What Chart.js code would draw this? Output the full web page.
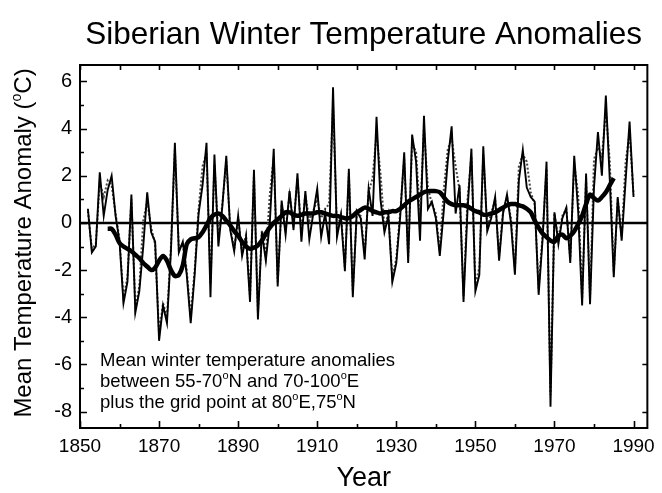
<!DOCTYPE html>
<html>
<head>
<meta charset="utf-8">
<script src="https://cdn.jsdelivr.net/npm/chart.js@4.4.1/dist/chart.umd.min.js"></script>
<style>
  html, body { margin: 0; padding: 0; background: #fff; }
</style>
</head>
<body>
<canvas id="chart" width="662" height="493"></canvas>
<script>
'use strict';

// Winter anomalies (°C), one value per year from 1852 to 1990
const firstYear = 1852;
const annual = [
    0.6, -1.25, -1.0, 2.15, 0.3, 1.4, 2.0, 0.3,
    -0.8, -3.4, -2.5, 1.2, -3.8, -2.9, -1.0, 1.3, -0.4, -0.8,
    -5.0, -3.5, -4.25, -1.2, 3.4, -1.25, -0.8, -2.2, -4.25, -2.2,
    0.4, 1.6, 3.4, -3.15, 2.9, -1.0, 0.7, 2.85, -0.3, -1.2,
    0.3, -1.4, -0.6, -3.35, 2.25, -4.1, -0.4, -1.6, 0.0, 3.15,
    -2.7, 0.95, -0.5, 1.35, -0.3, 2.1, -0.8, 1.35, -0.7, 0.4,
    1.45, -0.6, 0.4, -0.9, 5.75, -0.6, 0.3, -2.05, 2.3, -3.15,
    0.5, 0.2, -1.55, 1.45, 0.3, 4.5, 1.0, -0.4, 0.3, -2.5,
    -1.7, 0.3, 3.0, -1.7, 3.75, 2.6, -0.75, 4.55, 0.6, 0.9,
    0.2, -1.4, 0.5, 2.6, 4.1, 0.4, 1.6, -3.35, 0.5, 3.15,
    -2.9, -2.2, 3.25, -0.35, 0.2, 1.1, -1.6, 0.4, 1.2, 0.0,
    -2.2, 1.8, 3.1, 1.5, 1.1, 0.9, -3.05, -0.7, 2.6, -7.8,
    0.45, -0.9, 0.2, 0.65, -1.7, 2.85, 0.5, -3.5, 2.1, -3.45,
    1.5, 3.85, 2.0, 5.4, 1.8, -2.3, 1.1, -0.75, 1.8, 4.3,
    1.1
];

// second (dotted) series, same years
const gridded = [
    0.5, -1.1, -0.9, 1.7, 1.1, 1.8, 1.6, 0.4,
    -0.7, -3.2, -2.3, 1.0, -3.6, -2.7, 0.1, 0.9, -0.2, -0.9,
    -4.7, -3.4, -4.0, -1.0, 3.1, -1.1, -0.9, -2.0, -4.0, -2.0,
    0.6, 2.4, 3.0, -2.6, 2.5, -0.6, 0.8, 2.6, -0.2, -1.1,
    0.2, -1.3, -0.5, -3.1, 2.0, -3.8, -0.3, -1.4, 1.2, 2.8,
    -2.5, 0.8, -0.3, 1.2, 0.0, 1.9, -0.4, 1.2, 0.1, 0.5,
    1.0, 0.2, 0.6, 0.8, 5.0, -0.3, 0.4, -1.9, 2.1, -2.9,
    0.4, 0.3, -1.3, 1.3, 1.9, 3.8, 2.1, -0.2, 0.4, -2.3,
    -1.5, 0.5, 2.7, -1.4, 3.4, 3.0, 0.3, 4.0, 1.5, 0.8,
    0.4, -1.2, 1.4, 3.1, 3.6, 2.4, 1.4, -3.1, 1.0, 2.8,
    -2.6, -1.9, 2.9, -0.2, 0.4, 1.0, -1.4, 0.5, 1.1, 0.2,
    -2.0, 2.4, 2.9, 2.6, 1.3, 0.8, -2.8, -0.5, 2.3, -7.3,
    0.4, -0.7, 0.3, 0.6, -1.5, 2.5, 1.2, -3.2, 1.9, -3.2,
    2.7, 3.2, 2.8, 4.8, 2.6, -2.1, 1.0, -0.6, 2.6, 3.8,
    1.2
];

// smoothed curve (thick line), 1857 to 1985
const smoothFirstYear = 1857;
const smoothed = [
    -0.25, -0.25, -0.5,
    -0.85, -1.0, -1.1, -1.2, -1.35, -1.5, -1.7, -1.85, -2.0, -1.9,
    -1.6, -1.4, -1.6, -2.0, -2.25, -2.2, -1.8, -0.9, -0.7, -0.65,
    -0.6, -0.4, -0.1, 0.2, 0.35, 0.4, 0.3, 0.1, -0.1, -0.35,
    -0.55, -0.8, -1.0, -1.1, -1.05, -0.95, -0.75, -0.45, -0.2, 0.0,
    0.15, 0.3, 0.45, 0.45, 0.35, 0.3, 0.35, 0.4, 0.4, 0.4,
    0.45, 0.45, 0.4, 0.35, 0.3, 0.3, 0.25, 0.2, 0.2, 0.3,
    0.45, 0.55, 0.65, 0.6, 0.5, 0.45, 0.4, 0.45, 0.45, 0.5,
    0.5, 0.6, 0.75, 0.9, 1.0, 1.1, 1.2, 1.3, 1.35, 1.35,
    1.35, 1.3, 1.1, 0.9, 0.8, 0.75, 0.75, 0.75, 0.7, 0.6,
    0.5, 0.45, 0.35, 0.35, 0.4, 0.45, 0.55, 0.65, 0.75, 0.8,
    0.8, 0.75, 0.7, 0.6, 0.45, 0.1, -0.2, -0.45, -0.6, -0.75,
    -0.8, -0.55, -0.5, -0.65, -0.55, -0.35, -0.05, 0.3, 0.8, 1.2,
    1.05, 0.95, 1.1, 1.3, 1.6, 1.9
];

const xLabelYears = [1850, 1870, 1890, 1910, 1930, 1950, 1970, 1990];
const xTickYears = [1850, 1860, 1870, 1880, 1890, 1900, 1910, 1920, 1930, 1940, 1950, 1960, 1970, 1980, 1990];
const yLabelValues = [-8, -6, -4, -2, 0, 2, 4, 6];
const yTickValues = [-8, -7, -6, -5, -4, -3, -2, -1, 0, 1, 2, 3, 4, 5, 6];

const FONT = '"Liberation Sans", Arial, Helvetica, sans-serif';

function toPoints(start, values) {
    return values.map(function(v, i) {
        return { x: start + i, y: v };
    });
}

// text with small raised "o" pieces for degrees
function runsWidth(ctx, runs, size) {
    let w = 0;
    runs.forEach(function(r) {
        ctx.font = (r[1] ? Math.round(size * 0.6) : size) + 'px ' + FONT;
        w += ctx.measureText(r[0]).width;
    });
    return w;
}

function drawRuns(ctx, runs, x, y, size) {
    let cx = x;
    runs.forEach(function(r) {
        ctx.font = (r[1] ? Math.round(size * 0.6) : size) + 'px ' + FONT;
        ctx.fillText(r[0], cx, r[1] ? y - size * 0.42 : y);
        cx += ctx.measureText(r[0]).width;
    });
}

const framePlugin = {
    id: 'frame',
    beforeDatasetsDraw: function(chart) {
        const ctx = chart.ctx;
        const area = chart.chartArea;
        const y0 = chart.scales.y.getPixelForValue(0);
        ctx.save();
        ctx.strokeStyle = '#000';
        ctx.lineWidth = 2.6;
        ctx.beginPath();
        ctx.moveTo(area.left, y0);
        ctx.lineTo(area.right, y0);
        ctx.stroke();
        ctx.restore();
    },
    afterDatasetsDraw: function(chart) {
        const ctx = chart.ctx;
        const area = chart.chartArea;
        const xs = chart.scales.x;
        const ys = chart.scales.y;
        ctx.save();
        ctx.strokeStyle = '#000';
        ctx.lineWidth = 2;
        ctx.strokeRect(area.left, area.top, area.right - area.left, area.bottom - area.top);

        ctx.lineWidth = 1.6;
        ctx.beginPath();
        yTickValues.forEach(function(v) {
            const py = Math.round(ys.getPixelForValue(v)) + 0.5;
            const major = v % 2 === 0;
            ctx.moveTo(area.left, py);
            ctx.lineTo(area.left + (major ? 7 : 4), py);
            if (major && v !== 0) {
                ctx.moveTo(area.right, py);
                ctx.lineTo(area.right - 5, py);
            }
        });
        xTickYears.forEach(function(yr) {
            const px = Math.round(xs.getPixelForValue(yr)) + 0.5;
            const major = xLabelYears.indexOf(yr) !== -1;
            ctx.moveTo(px, area.bottom);
            ctx.lineTo(px, area.bottom - (major ? 7 : 4));
            ctx.moveTo(px, area.top);
            ctx.lineTo(px, area.top + 5);
        });
        ctx.stroke();
        ctx.restore();
    },
    afterDraw: function(chart) {
        const ctx = chart.ctx;
        const area = chart.chartArea;
        const midX = (area.left + area.right) / 2;
        ctx.save();
        ctx.fillStyle = '#000';
        ctx.textBaseline = 'alphabetic';

        // title
        ctx.textAlign = 'center';
        ctx.font = '31.5px ' + FONT;
        ctx.fillText('Siberian Winter Temperature Anomalies', midX, 44);

        // x axis title
        ctx.font = '27px ' + FONT;
        ctx.fillText('Year', midX, 486);

        // y axis title
        ctx.textAlign = 'left';
        const yRuns = [['Mean Temperature Anomaly (', false], ['o', true], ['C)', false]];
        const yw = runsWidth(ctx, yRuns, 24);
        ctx.save();
        ctx.translate(31, 243);
        ctx.rotate(-Math.PI / 2);
        drawRuns(ctx, yRuns, -yw / 2, 0, 24);
        ctx.restore();

        // note inside the plot
        const noteSize = 18.5;
        drawRuns(ctx, [['Mean winter temperature anomalies', false]], 100, 366, noteSize);
        drawRuns(ctx, [['between 55-70', false], ['o', true], ['N and 70-100', false], ['o', true], ['E', false]], 100, 387, noteSize);
        drawRuns(ctx, [['plus the grid point at 80', false], ['o', true], ['E,75', false], ['o', true], ['N', false]], 100, 408, noteSize);
        ctx.restore();
    }
};

const ctx = document.getElementById('chart').getContext('2d');
new Chart(ctx, {
    type: 'line',
    data: {
        datasets: [
            {
                label: 'Smoothed',
                data: toPoints(smoothFirstYear, smoothed),
                borderColor: '#000',
                borderWidth: 4.5,
                pointRadius: 0,
                tension: 0.3,
                fill: false
            },
            {
                label: 'Annual anomaly',
                data: toPoints(firstYear, annual),
                borderColor: '#000',
                borderWidth: 1.9,
                pointRadius: 0,
                tension: 0,
                fill: false
            },
            {
                label: 'Second series',
                data: toPoints(firstYear, gridded),
                borderColor: '#444',
                borderWidth: 2,
                borderDash: [2, 2],
                pointRadius: 0,
                tension: 0,
                fill: false
            }
        ]
    },
    options: {
        responsive: false,
        animation: false,
        layout: {
            padding: { left: 0, right: 14, top: 65, bottom: 0 }
        },
        plugins: {
            legend: { display: false },
            tooltip: { enabled: false }
        },
        scales: {
            x: {
                type: 'linear',
                min: 1850,
                max: 1993.5,
                border: { display: false },
                grid: { display: false, drawTicks: false },
                afterBuildTicks: function(scale) {
                    scale.ticks = xLabelYears.map(function(v) { return { value: v }; });
                },
                ticks: {
                    autoSkip: false,
                    maxRotation: 0,
                    padding: 7,
                    color: '#000',
                    font: { family: FONT, size: 19 },
                    callback: function(v) { return String(v); }
                },
                afterFit: function(scale) { scale.height = 65; }
            },
            y: {
                type: 'linear',
                min: -8.7,
                max: 6.7,
                border: { display: false },
                grid: { display: false, drawTicks: false },
                afterBuildTicks: function(scale) {
                    scale.ticks = yLabelValues.map(function(v) { return { value: v }; });
                },
                ticks: {
                    autoSkip: false,
                    padding: 8,
                    color: '#000',
                    font: { family: FONT, size: 20 },
                    callback: function(v) { return String(v); }
                },
                afterFit: function(scale) { scale.width = 80; }
            }
        }
    },
    plugins: [framePlugin]
});
</script>
</body>
</html>
